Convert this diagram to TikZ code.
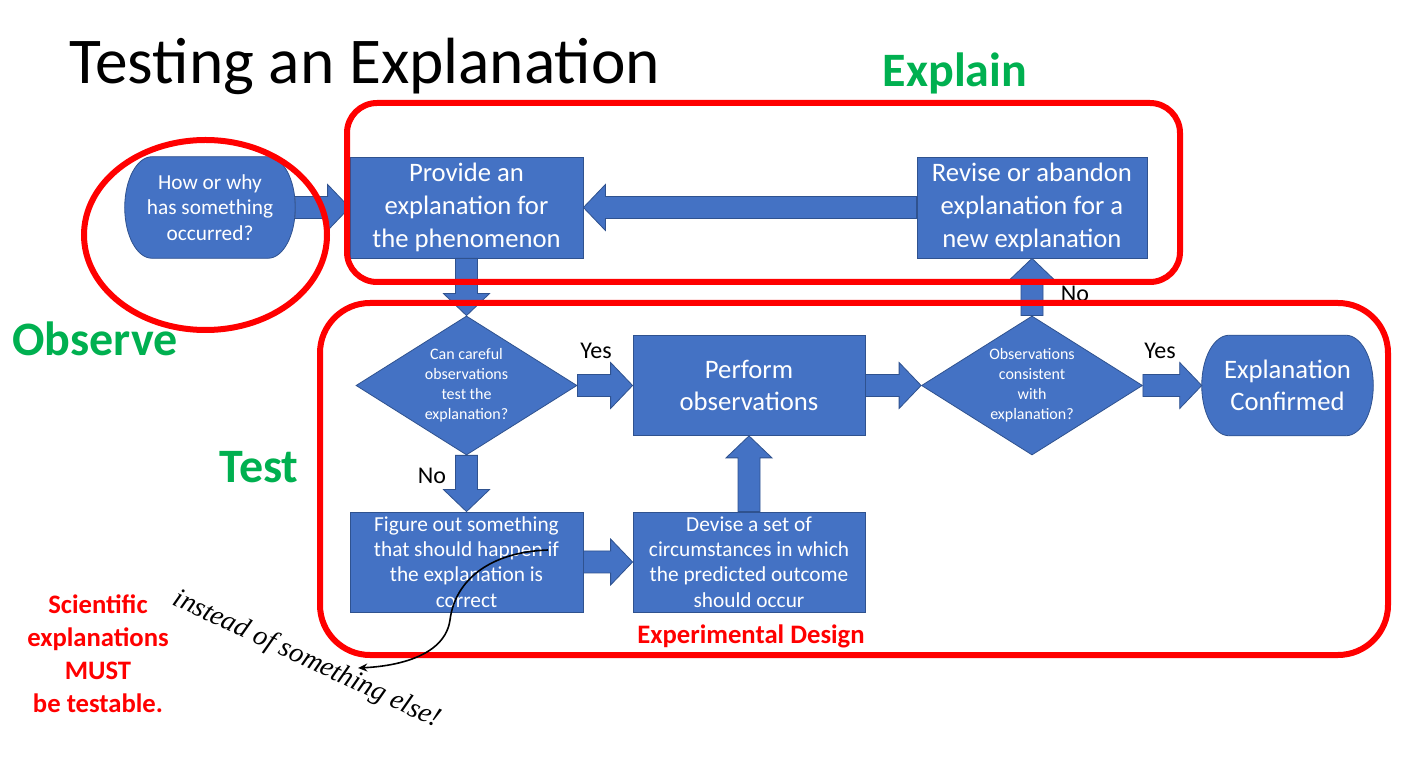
\documentclass[tikz,border=0pt]{standalone}
\usepackage{fontspec}
\setmainfont{Carlito}
\newfontfamily\asidefont{Liberation Serif}
\usetikzlibrary{shapes.geometric,calc,arrows.meta}

\definecolor{boxblue}{HTML}{4472C4}
\definecolor{boxedge}{HTML}{2F528F}
\definecolor{markred}{HTML}{FF0000}
\definecolor{markgreen}{HTML}{00B050}

\pgfdeclarelayer{paper}
\pgfdeclarelayer{background}
\pgfsetlayers{paper,background,main}

% lengths are given in drawing units of 0.75pt
\newcommand\pxl[1]{#1*0.75pt}
\def\flowshaft{8.25pt}
\def\flowhead{17.25pt}
\def\flowlen{16.5pt}

% horizontal block arrow from #1 to #2; #3 = 1 rightwards, -1 leftwards
\newcommand\hflow[3]{%
  \filldraw[flow] let \p1=(#1), \p2=(#2) in
    (\x1,{\y1+\flowshaft}) -- ({\x2-(#3)*\flowlen},{\y1+\flowshaft})
    -- ({\x2-(#3)*\flowlen},{\y1+\flowhead}) -- (\x2,\y1)
    -- ({\x2-(#3)*\flowlen},{\y1-\flowhead}) -- ({\x2-(#3)*\flowlen},{\y1-\flowshaft})
    -- (\x1,{\y1-\flowshaft}) -- cycle;}

% vertical block arrow from #1 to #2; #3 = 1 upwards, -1 downwards
\newcommand\vflow[3]{%
  \filldraw[flow] let \p1=(#1), \p2=(#2) in
    ({\x1+\flowshaft},\y1) -- ({\x1+\flowshaft},{\y2-(#3)*\flowlen})
    -- ({\x1+\flowhead},{\y2-(#3)*\flowlen}) -- (\x1,\y2)
    -- ({\x1-\flowhead},{\y2-(#3)*\flowlen}) -- ({\x1-\flowshaft},{\y2-(#3)*\flowlen})
    -- ({\x1-\flowshaft},\y1) -- cycle;}

% terminator outline (flat top and bottom, elliptic ends) behind node #1
\newcommand\terminalshape[1]{%
  \begin{pgfonlayer}{background}
  \filldraw[flow] let \p1=(#1.south west), \p2=(#1.north east),
      \n1={0.16*(\x2-\x1)}, \n2={(\y2-\y1)/2} in
    ({\x1+\n1},\y1) -- ({\x2-\n1},\y1)
    arc[start angle=-90, end angle=90, x radius=\n1, y radius=\n2]
    -- ({\x1+\n1},\y2)
    arc[start angle=90, end angle=270, x radius=\n1, y radius=\n2] -- cycle;
  \end{pgfonlayer}}

\begin{document}
\begin{tikzpicture}[x=0.75pt,y=-0.75pt,
  flow/.style={fill=boxblue, draw=boxedge, line width=0.6pt},
  box/.style={rectangle, fill=boxblue, draw=boxedge, line width=0.6pt,
    text=white, align=center, inner sep=0pt},
  terminal/.style={rectangle, draw=none, fill=none, text=white,
    align=center, inner sep=0pt},
  decision/.style={diamond, aspect=1.59, fill=boxblue, draw=boxedge,
    line width=0.6pt, text=white, align=center, inner sep=0pt,
    minimum width=\pxl{221}, minimum height=\pxl{139}},
  bigtext/.style={font=\fontsize{20}{24.5}\selectfont},
  midtext/.style={font=\fontsize{16}{19}\selectfont},
  smalltext/.style={font=\fontsize{12}{15}\selectfont},
  zoneline/.style={draw=markred, line width=4.5pt, fill=none, inner sep=0pt},
  stage/.style={text=markgreen, font=\bfseries\fontsize{36}{40}\selectfont, inner sep=0pt},
  choice/.style={font=\fontsize{18}{20}\selectfont, inner sep=0pt},
  warning/.style={text=markred, align=center, inner sep=0pt,
    font=\bfseries\fontsize{20}{24.75}\selectfont}]

\begin{pgfonlayer}{paper}
\fill[white] (0,0) rectangle (1414,762);
\end{pgfonlayer}
\useasboundingbox (0,0) rectangle (1414,762);

% title
\node[anchor=base west, inner sep=0pt, font=\fontsize{49}{56}\selectfont] (title)
  at (69,84) {Testing an Explanation};

% process steps
\node[terminal, midtext, minimum width=\pxl{170}, minimum height=\pxl{101}] (how)
  at (210,207.5) {How or why\\has something\\occurred?};
\terminalshape{how}
\node[box, bigtext, minimum width=\pxl{233}, minimum height=\pxl{101}] (provide)
  at (466.5,207.5) {Provide an\\explanation for\\the phenomenon};
\node[box, bigtext, minimum width=\pxl{230}, minimum height=\pxl{101}] (revise)
  at (1032,207.5) {Revise or abandon\\explanation for a\\new explanation};
\node[decision, smalltext] (canobserve) at (466.5,385.5)
  {Can careful\\observations\\test the\\explanation?};
\node[box, bigtext, minimum width=\pxl{232}, minimum height=\pxl{100}] (perform)
  at (749,385.5) {Perform\\observations};
\node[decision, smalltext] (consistent) at (1032,385.5)
  {Observations\\consistent\\with\\explanation?};
\node[terminal, bigtext, minimum width=\pxl{171}, minimum height=\pxl{100}] (confirmed)
  at (1287.5,385.5) {Explanation\\Confirmed};
\terminalshape{confirmed}
\node[box, midtext, minimum width=\pxl{233}, minimum height=\pxl{100}] (predict)
  at (466.5,562) {Figure out something\\that should happen if\\the explanation is\\correct};
\node[box, midtext, minimum width=\pxl{232}, minimum height=\pxl{100}] (devise)
  at (749,562) {Devise a set of\\circumstances in which\\the predicted outcome\\should occur};

% block arrows
\hflow{how.east}{provide.west}{1}
\hflow{revise.west}{provide.east}{-1}
\vflow{provide.south}{canobserve.north}{-1}
\hflow{canobserve.east}{perform.west}{1}
\hflow{perform.east}{consistent.west}{1}
\hflow{consistent.east}{confirmed.west}{1}
\vflow{consistent.north}{revise.south}{1}
\vflow{canobserve.south}{predict.north}{-1}
\hflow{predict.east}{devise.west}{1}
\vflow{devise.north}{perform.south}{1}

% answers on the branches
\node[choice] (yesperform) at (596,351) {Yes};
\node[choice] (yesconfirm) at (1160,351) {Yes};
\node[choice] (nopredict) at (432,476) {No};
\node[choice] (norevise) at (1075,294) {No};

% stage outlines
\node[zoneline, ellipse, minimum width=\pxl{243}, minimum height=\pxl{190}] (observezone)
  at (205.5,235) {};
\node[zoneline, rectangle, rounded corners=\pxl{30}, minimum width=\pxl{833},
  minimum height=\pxl{179}] (explainzone) at (763.5,192.5) {};
\node[zoneline, rectangle, rounded corners=\pxl{50}, minimum width=\pxl{1068},
  minimum height=\pxl{352}] (testzone) at (854,479) {};

% stage names
\node[stage, anchor=base] (explainlabel) at (955,87) {Explain};
\node[stage, anchor=base] (observelabel) at (95,356) {Observe};
\node[stage, anchor=base] (testlabel) at (259,483) {Test};

\node[warning, font=\bfseries\fontsize{20}{24}\selectfont] (design) at (751,636)
  {Experimental Design};
\node[warning] (testable) at (98,654) {Scientific\\explanations\\MUST\\be testable.};

% handwritten aside
\node[rotate=-25, inner sep=0pt, font=\asidefont\itshape\fontsize{21}{26}\selectfont] (aside)
  at (307,660) {instead of something else!};
\coordinate (asidestart) at (548,550);
\coordinate (asideend) at (358,668);
\draw[line width=1.2pt, -{Stealth[length=7pt,width=6pt]}] (asidestart)
  .. controls (490,552) and (455,580) .. (450,620)
  .. controls (445,655) and (400,666) .. (asideend);

\end{tikzpicture}
\end{document}
